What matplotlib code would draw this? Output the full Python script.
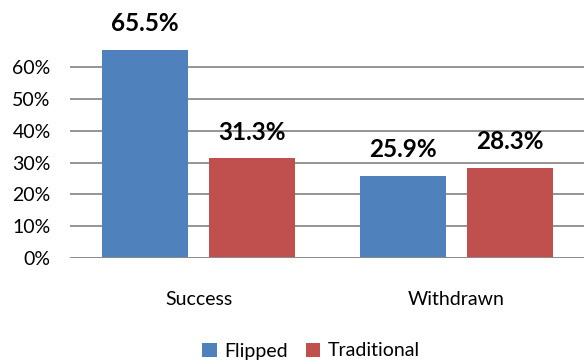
import matplotlib
matplotlib.use("Agg")
import matplotlib.pyplot as plt
import numpy as np

categories = ["Success", "Withdrawn"]
flipped = [65.5, 25.9]
traditional = [31.3, 28.3]
series_names = ["Flipped", "Traditional"]
yticks = [0, 10, 20, 30, 40, 50, 60]

plt.rcParams['font.family'] = ['Lato', 'DejaVu Sans']

fig = plt.figure(figsize=(5.84, 3.64), dpi=100)
ax = fig.add_axes([70/584, 1-258/364, 515/584, (258-35.4)/364])

x = np.arange(len(categories)) + 0.5
w = 0.335
off = 0.208
c1, c2 = "#4F81BD", "#C0504D"
b1 = ax.bar(x - off, flipped, w, color=c1, label=series_names[0], zorder=3)
b2 = ax.bar(x + off, traditional, w, color=c2, label=series_names[1], zorder=3)
for bars, vals in ((b1, flipped), (b2, traditional)):
    for b, v in zip(bars, vals):
        ax.text(b.get_x() + b.get_width()/2, v + 4.6, f"{v:.1f}%", ha="center", va="bottom",
                fontsize=17.5, fontweight="bold", clip_on=False, zorder=5)

ax.set_xlim(0, 2)
ax.set_ylim(0, 70)
ax.set_yticks(yticks)
ax.set_yticklabels([f"{t}%" for t in yticks], fontsize=14)
ax.set_xticks(x)
ax.set_xticklabels(categories, fontsize=14)
ax.tick_params(axis="y", length=0, pad=14)
ax.tick_params(axis="x", length=0, pad=24)
for s in ax.spines.values():
    s.set_visible(False)
ax.grid(axis="y", color="#8C8C8C", linewidth=1.3, zorder=0)
ax.axhline(0, color="#8C8C8C", linewidth=1.3, zorder=4)

fig.legend(handles=[b1, b2], labels=series_names, loc="center", bbox_to_anchor=(311/584, 1-351/364),
           ncol=2, frameon=False, fontsize=14, handlelength=0.75, handleheight=0.75,
           columnspacing=0.9, handletextpad=0.4)
fig.savefig("out.png", dpi=100)
